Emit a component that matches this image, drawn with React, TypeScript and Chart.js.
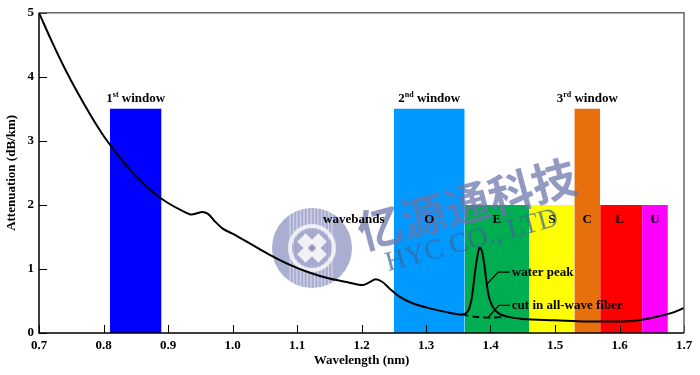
import React, { useEffect, useRef } from "react";
import { Chart, registerables } from "chart.js";

Chart.register(...registerables);

// Attenuation curve (x: wavelength axis units, y: dB/km)
const curveX = [0.7, 0.72, 0.74, 0.76, 0.78, 0.8, 0.82, 0.84, 0.86, 0.88, 0.9, 0.92, 0.937, 0.945, 0.953, 0.962, 0.972, 0.985, 1.0, 1.03, 1.06, 1.09, 1.12, 1.15, 1.18, 1.202, 1.212, 1.222, 1.232, 1.245, 1.26, 1.28, 1.3, 1.33, 1.355, 1.365, 1.371, 1.376, 1.38, 1.383, 1.386, 1.39, 1.394, 1.398, 1.404, 1.412, 1.425, 1.45, 1.5, 1.55, 1.6, 1.63, 1.66, 1.68, 1.7];
const curveY = [5.0, 4.55, 4.13, 3.75, 3.4, 3.08, 2.81, 2.56, 2.35, 2.17, 2.03, 1.92, 1.85, 1.87, 1.89, 1.86, 1.75, 1.63, 1.55, 1.38, 1.21, 1.06, 0.94, 0.85, 0.79, 0.75, 0.79, 0.84, 0.8, 0.68, 0.56, 0.46, 0.4, 0.33, 0.29, 0.34, 0.55, 0.95, 1.22, 1.33, 1.3, 1.1, 0.78, 0.55, 0.4, 0.31, 0.26, 0.22, 0.2, 0.18, 0.18, 0.2, 0.26, 0.31, 0.39];

// "cut in all-wave fiber" dashed curve
const cutX = [1.355, 1.38, 1.4, 1.425];
const cutY = [0.29, 0.25, 0.24, 0.255];

// Windows / wavebands (coloured blocks)
const bandStart = [0.81, 1.25, 1.36, 1.46, 1.53, 1.57, 1.635];
const bandEnd = [0.89, 1.36, 1.46, 1.53, 1.57, 1.635, 1.675];
const bandHeight = [3.5, 3.5, 2, 2, 3.5, 2, 2];
const bandColors = ["#0000ff", "#0099ff", "#00ad50", "#ffff00", "#e8700c", "#ff0000", "#ff00ff"];

// Window labels
const windowNum = ["1", "2", "3"];
const windowSup = ["st", "nd", "rd"];
const windowX = [0.85, 1.305, 1.55];
const windowY = 3.5;

// Waveband labels
const bandLabels = ["wavebands", "O", "E", "S", "C", "L", "U"];
const bandLabelX = [1.188, 1.305, 1.41, 1.495, 1.55, 1.6, 1.655];
const bandLabelY = 1.77;

// Annotations: leader line points + label
const waterPeakLeaderX = [1.393, 1.412, 1.43];
const waterPeakLeaderY = [0.75, 0.95, 0.95];
const cutLeaderX = [1.397, 1.413, 1.43];
const cutLeaderY = [0.25, 0.43, 0.43];
const annotationText = ["water peak", "cut in all-wave fiber"];

const SERIF = '"Liberation Serif", "Times New Roman", serif';

export default function App() {
  const ref = useRef<HTMLCanvasElement | null>(null);

  useEffect(() => {
    if (!ref.current) return;

    const bandDatasets = bandStart.map((s, i) => ({
      type: "line" as const,
      data: [
        { x: s, y: bandHeight[i] },
        { x: bandEnd[i], y: bandHeight[i] },
      ],
      fill: "origin",
      backgroundColor: bandColors[i],
      borderColor: bandColors[i],
      borderWidth: 0,
      pointRadius: 0,
      tension: 0,
      order: 1,
    }));

    const watermarkPlugin = {
      id: "watermark",
      beforeDatasetDraw(chart: any, args: any) {
        if (args.index !== 1) return;
        const ctx = chart.ctx as CanvasRenderingContext2D;
        ctx.save();
        // logo circle
        const cx = 312, cy = 248, r = 40;
        ctx.beginPath();
        ctx.arc(cx, cy, r, 0, Math.PI * 2);
        ctx.fillStyle = "rgba(155,160,200,0.85)";
        ctx.fill();
        ctx.save();
        ctx.beginPath();
        ctx.arc(cx, cy, r, 0, Math.PI * 2);
        ctx.clip();
        ctx.strokeStyle = "rgba(225,227,240,0.75)";
        ctx.lineWidth = 1.2;
        for (let x = cx - 22; x <= cx + 22; x += 3.5) {
          ctx.beginPath();
          ctx.moveTo(x, cy - r);
          ctx.lineTo(x, cy + r);
          ctx.stroke();
        }
        ctx.restore();
        ctx.beginPath();
        ctx.arc(cx, cy, 22, 0, Math.PI * 2);
        ctx.strokeStyle = "rgba(240,241,248,0.95)";
        ctx.lineWidth = 4;
        ctx.stroke();
        ctx.beginPath();
        ctx.arc(cx, cy, 19, 0, Math.PI * 2);
        ctx.fillStyle = "rgba(165,169,204,0.9)";
        ctx.fill();
        // petals
        ctx.fillStyle = "rgba(245,245,250,0.95)";
        for (let k = 0; k < 4; k++) {
          const a = Math.PI / 4 + (k * Math.PI) / 2;
          ctx.save();
          ctx.translate(cx + Math.cos(a) * 9, cy + Math.sin(a) * 9);
          ctx.rotate(a);
          ctx.fillRect(-6, -6, 12, 12);
          ctx.restore();
        }
        ctx.beginPath();
        ctx.arc(cx, cy, 3, 0, Math.PI * 2);
        ctx.fillStyle = "rgba(150,155,196,1)";
        ctx.fill();

        // Chinese company name
        ctx.save();
        ctx.translate(467, 204);
        ctx.rotate((-15 * Math.PI) / 180);
        ctx.font = 'bold 45px "Noto Sans CJK SC"';
        ctx.textAlign = "center";
        ctx.textBaseline = "middle";
        ctx.fillStyle = "rgba(105,115,170,0.72)";
        ctx.fillText("亿源通科技", 0, 0);
        ctx.restore();

        // English name
        ctx.save();
        ctx.translate(472, 241);
        ctx.rotate((-15 * Math.PI) / 180);
        ctx.font = "28px " + SERIF;
        ctx.textAlign = "center";
        ctx.textBaseline = "middle";
        ctx.fillStyle = "rgba(65,100,150,0.72)";
        ctx.fillText("HYC CO., LTD", 0, 0);
        ctx.restore();

        ctx.restore();
      },
    };

    const overlayPlugin = {
      id: "overlay",
      afterDatasetsDraw(chart: any) {
        const ctx = chart.ctx as CanvasRenderingContext2D;
        const xs = chart.scales.x;
        const ys = chart.scales.y;
        const { left, right, top, bottom } = chart.chartArea;
        ctx.save();

        // window labels with superscripts
        const big = "bold 13px " + SERIF;
        const small = "bold 8px " + SERIF;
        ctx.fillStyle = "#000";
        ctx.textBaseline = "alphabetic";
        ctx.textAlign = "left";
        windowNum.forEach((n, i) => {
          ctx.font = big;
          const w1 = ctx.measureText(n).width;
          const w3 = ctx.measureText(" window").width;
          ctx.font = small;
          const w2 = ctx.measureText(windowSup[i]).width;
          const total = w1 + w2 + w3;
          let x = xs.getPixelForValue(windowX[i]) - total / 2;
          const y = ys.getPixelForValue(windowY) - 7;
          ctx.font = big;
          ctx.fillText(n, x, y);
          x += w1;
          ctx.font = small;
          ctx.fillText(windowSup[i], x, y - 5);
          x += w2;
          ctx.font = big;
          ctx.fillText(" window", x, y);
        });

        // band labels
        ctx.font = big;
        ctx.textAlign = "center";
        ctx.textBaseline = "middle";
        bandLabels.forEach((t, i) => {
          ctx.fillText(t, xs.getPixelForValue(bandLabelX[i]), ys.getPixelForValue(bandLabelY));
        });

        // leaders
        ctx.strokeStyle = "#000";
        ctx.lineWidth = 1.2;
        [
          [waterPeakLeaderX, waterPeakLeaderY],
          [cutLeaderX, cutLeaderY],
        ].forEach(([lx, ly], i) => {
          ctx.beginPath();
          lx.forEach((v, j) => {
            const px = xs.getPixelForValue(v);
            const py = ys.getPixelForValue(ly[j]);
            if (j === 0) ctx.moveTo(px, py);
            else ctx.lineTo(px, py);
          });
          ctx.stroke();
          ctx.textAlign = "left";
          ctx.fillText(
            annotationText[i],
            xs.getPixelForValue(lx[lx.length - 1]) + 2,
            ys.getPixelForValue(ly[ly.length - 1])
          );
        });

        // inward ticks
        ctx.lineWidth = 1;
        ctx.strokeStyle = "#000";
        xs.ticks.forEach((t: any) => {
          const px = Math.round(xs.getPixelForValue(t.value)) + 0.5;
          ctx.beginPath();
          ctx.moveTo(px, bottom);
          ctx.lineTo(px, bottom - 8);
          ctx.stroke();
        });
        ys.ticks.forEach((t: any) => {
          const py = Math.round(ys.getPixelForValue(t.value)) + 0.5;
          ctx.beginPath();
          ctx.moveTo(left, py);
          ctx.lineTo(left + 8, py);
          ctx.stroke();
        });

        // frame
        ctx.lineWidth = 1.5;
        ctx.strokeStyle = "#666";
        ctx.beginPath();
        ctx.moveTo(left, top);
        ctx.lineTo(right, top);
        ctx.lineTo(right, bottom);
        ctx.stroke();
        ctx.strokeStyle = "#000";
        ctx.beginPath();
        ctx.moveTo(left, top);
        ctx.lineTo(left, bottom);
        ctx.lineTo(right, bottom);
        ctx.stroke();

        ctx.restore();
      },
    };

    const chart = new Chart(ref.current, {
      type: "line",
      data: {
        datasets: [
          {
            data: curveX.map((x, i) => ({ x, y: curveY[i] })),
            borderColor: "#000",
            borderWidth: 2,
            pointRadius: 0,
            fill: false,
            cubicInterpolationMode: "monotone",
            order: 0,
          },
          {
            data: cutX.map((x, i) => ({ x, y: cutY[i] })),
            borderColor: "#000",
            borderWidth: 1.8,
            borderDash: [7, 4],
            pointRadius: 0,
            fill: false,
            tension: 0.3,
            order: 0,
          },
          ...bandDatasets,
        ] as any,
      },
      options: {
        responsive: false,
        animation: false,
        layout: { padding: { left: 0, right: 16, top: 11, bottom: 0 } },
        plugins: {
          legend: { display: false },
          tooltip: { enabled: false },
        },
        scales: {
          x: {
            type: "linear",
            min: 0.7,
            max: 1.7,
            afterFit: (s: any) => {
              s.height = 42;
            },
            grid: { display: false, drawTicks: false },
            border: { display: false },
            ticks: {
              stepSize: 0.1,
              autoSkip: false,
              maxRotation: 0,
              padding: 5,
              color: "#000",
              font: { family: SERIF, size: 13, weight: "bold" },
              callback: (v: any) => Number(v).toFixed(1),
            },
            title: {
              display: true,
              text: "Wavelength (nm)",
              color: "#000",
              font: { family: SERIF, size: 13, weight: "bold" },
              padding: { top: 0, bottom: 7 },
            },
          },
          y: {
            type: "linear",
            min: 0,
            max: 5,
            afterFit: (s: any) => {
              s.width = 39;
            },
            grid: { display: false, drawTicks: false },
            border: { display: false },
            ticks: {
              stepSize: 1,
              padding: 5,
              color: "#000",
              font: { family: SERIF, size: 13, weight: "bold" },
            },
            title: {
              display: true,
              text: "Attenuation (dB/km)",
              color: "#000",
              font: { family: SERIF, size: 13, weight: "bold" },
              padding: { top: 4, bottom: 0 },
            },
          },
        },
      } as any,
      plugins: [watermarkPlugin, overlayPlugin],
    });

    return () => chart.destroy();
  }, []);

  return (
    <div style={{ position: "fixed", left: 0, top: 0, width: 700, height: 375, background: "#fff" }}>
      <canvas ref={ref} width={700} height={375} style={{ display: "block" }} />
    </div>
  );
}
